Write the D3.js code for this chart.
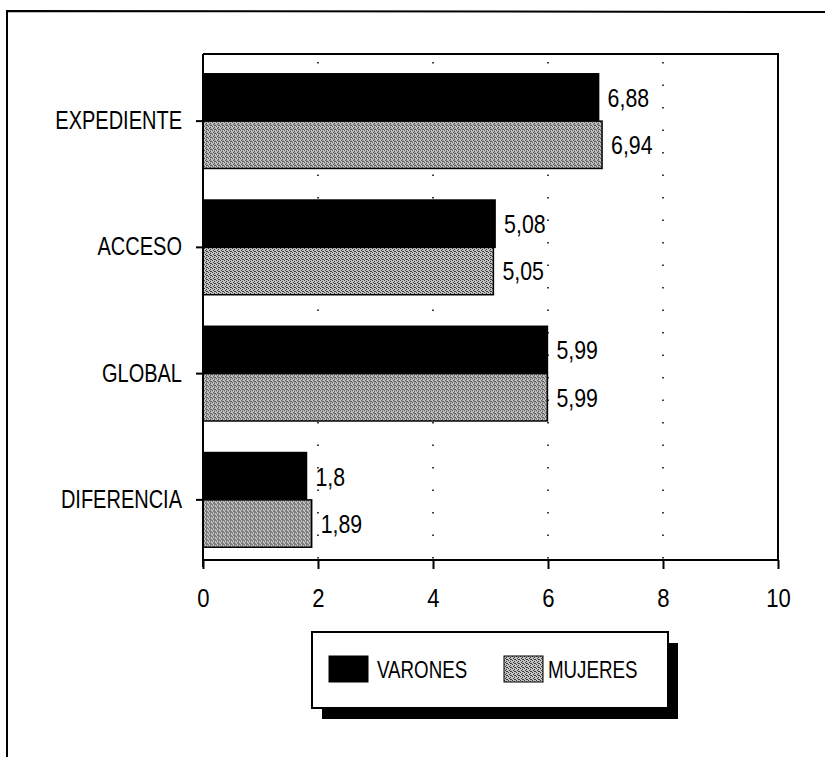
<!DOCTYPE html>
<html>
<head>
<meta charset="utf-8">
<script src="https://cdn.jsdelivr.net/npm/d3@7"></script>
<style>
  html, body { margin: 0; padding: 0; background: #fff; }
  svg { display: block; }
  text { font-family: "Liberation Sans", Arial, sans-serif; fill: #000; }
</style>
</head>
<body>
<svg id="chart" width="827" height="759"></svg>
<script>
// Notas medias por sexo
const categories = ["EXPEDIENTE", "ACCESO", "GLOBAL", "DIFERENCIA"];
const varones = [6.88, 5.08, 5.99, 1.8];
const mujeres = [6.94, 5.05, 5.99, 1.89];
const seriesNames = ["VARONES", "MUJERES"];
const xTicks = [0, 2, 4, 6, 8, 10];

const svg = d3.select("#chart");
const defs = svg.append("defs");

// halftone-style grey fill for the second series
const pat = defs.append("pattern")
  .attr("id", "grain")
  .attr("width", 4).attr("height", 4)
  .attr("patternUnits", "userSpaceOnUse");
pat.append("rect").attr("width", 4).attr("height", 4).attr("fill", "#c4c4c4");
[[0,0],[2,1],[1,2],[3,3],[2,3]].forEach(([px, py]) => {
  pat.append("rect").attr("x", px).attr("y", py).attr("width", 1).attr("height", 1).attr("fill", "#3a3a3a");
});

const plot = { left: 203, right: 778, top: 54, bottom: 560 };

const x = d3.scaleLinear().domain([0, 10]).range([plot.left, plot.right]);
const y = d3.scaleBand().domain(categories).range([58, 563])
  .paddingInner(0.25).paddingOuter(0.125);
const sub = d3.scaleBand().domain(seriesNames).range([0, y.bandwidth()]);

const fills = { VARONES: "#000", MUJERES: "url(#grain)" };
const fmt = v => String(v).replace(".", ",");

// condensed lettering: squeeze each label horizontally
function condense(sel, k) {
  sel.each(function () {
    const w = this.getComputedTextLength();
    d3.select(this).attr("textLength", w * k).attr("lengthAdjust", "spacingAndGlyphs");
  });
}

// outer frame (top and left edges)
svg.append("path")
  .attr("d", `M7,757 L7,11 L825,12`)
  .attr("fill", "none").attr("stroke", "#000").attr("stroke-width", 2);

// dotted gridlines
svg.append("g").selectAll("line")
  .data(xTicks.filter(t => t > 0 && t < 10))
  .join("line")
  .attr("x1", d => x(d)).attr("x2", d => x(d))
  .attr("y1", plot.top + 8).attr("y2", plot.bottom)
  .attr("stroke", "#000").attr("stroke-width", 1.5)
  .attr("stroke-dasharray", "1.5,21");

// plot frame (top and right edges)
svg.append("path")
  .attr("d", `M${plot.left},${plot.top} L${plot.right},${plot.top} L${plot.right},${plot.bottom}`)
  .attr("fill", "none").attr("stroke", "#000").attr("stroke-width", 2);

// bars
const rows = categories.map((c, i) => ({ cat: c, vals: [
  { s: "VARONES", v: varones[i] }, { s: "MUJERES", v: mujeres[i] } ] }));

const groups = svg.append("g").selectAll("g")
  .data(rows).join("g")
  .attr("transform", d => `translate(0,${y(d.cat)})`);

groups.selectAll("rect")
  .data(d => d.vals).join("rect")
  .attr("x", x(0))
  .attr("y", d => sub(d.s))
  .attr("width", d => x(d.v) - x(0))
  .attr("height", sub.bandwidth())
  .attr("fill", d => fills[d.s])
  .attr("stroke", "#000").attr("stroke-width", 1.5);

groups.selectAll("text")
  .data(d => d.vals).join("text")
  .attr("x", d => x(d.v) + 9)
  .attr("y", d => sub(d.s) + sub.bandwidth() / 2)
  .attr("dy", "0.36em")
  .attr("font-size", 26)
  .text(d => fmt(d.v))
  .call(condense, 0.82);

// axes
const xAxis = d3.axisBottom(x).tickValues(xTicks).tickSize(9).tickPadding(20).tickFormat(d3.format("d"));
const gx = svg.append("g").attr("transform", `translate(0,${plot.bottom})`).call(xAxis);
gx.select(".domain").attr("stroke-width", 2).attr("d", `M${plot.left},0H${plot.right}`);
gx.selectAll(".tick line").attr("stroke-width", 2);
gx.selectAll(".tick text").attr("font-size", 26).attr("font-family", null).call(condense, 0.85);

const yAxis = d3.axisLeft(y).tickSize(7).tickPadding(14);
const gy = svg.append("g").attr("transform", `translate(${plot.left},0)`).call(yAxis);
gy.select(".domain").attr("stroke-width", 2).attr("d", `M0,${plot.top}V${plot.bottom + 7}`);
gy.selectAll(".tick line").attr("stroke-width", 2);
gy.selectAll(".tick text").attr("font-size", 25).attr("font-family", null).call(condense, 0.8);

// legend with drop shadow
const lg = svg.append("g").attr("transform", "translate(312,632)");
lg.append("rect").attr("x", 10).attr("y", 11).attr("width", 356).attr("height", 76).attr("fill", "#000");
lg.append("rect").attr("x", 0).attr("y", 0).attr("width", 356).attr("height", 76)
  .attr("fill", "#fff").attr("stroke", "#000").attr("stroke-width", 2);
const items = [
  { s: "VARONES", sx: 17, tx: 65 },
  { s: "MUJERES", sx: 192, tx: 236 }
];
const li = lg.selectAll("g.item").data(items).join("g").attr("class", "item");
li.append("rect").attr("x", d => d.sx).attr("y", 24).attr("width", 39).attr("height", 26)
  .attr("fill", d => fills[d.s]).attr("stroke", "#000").attr("stroke-width", 1);
li.append("text").attr("x", d => d.tx).attr("y", 37).attr("dy", "0.36em")
  .attr("font-size", 24).text(d => d.s)
  .call(condense, 0.78);
</script>
</body>
</html>
